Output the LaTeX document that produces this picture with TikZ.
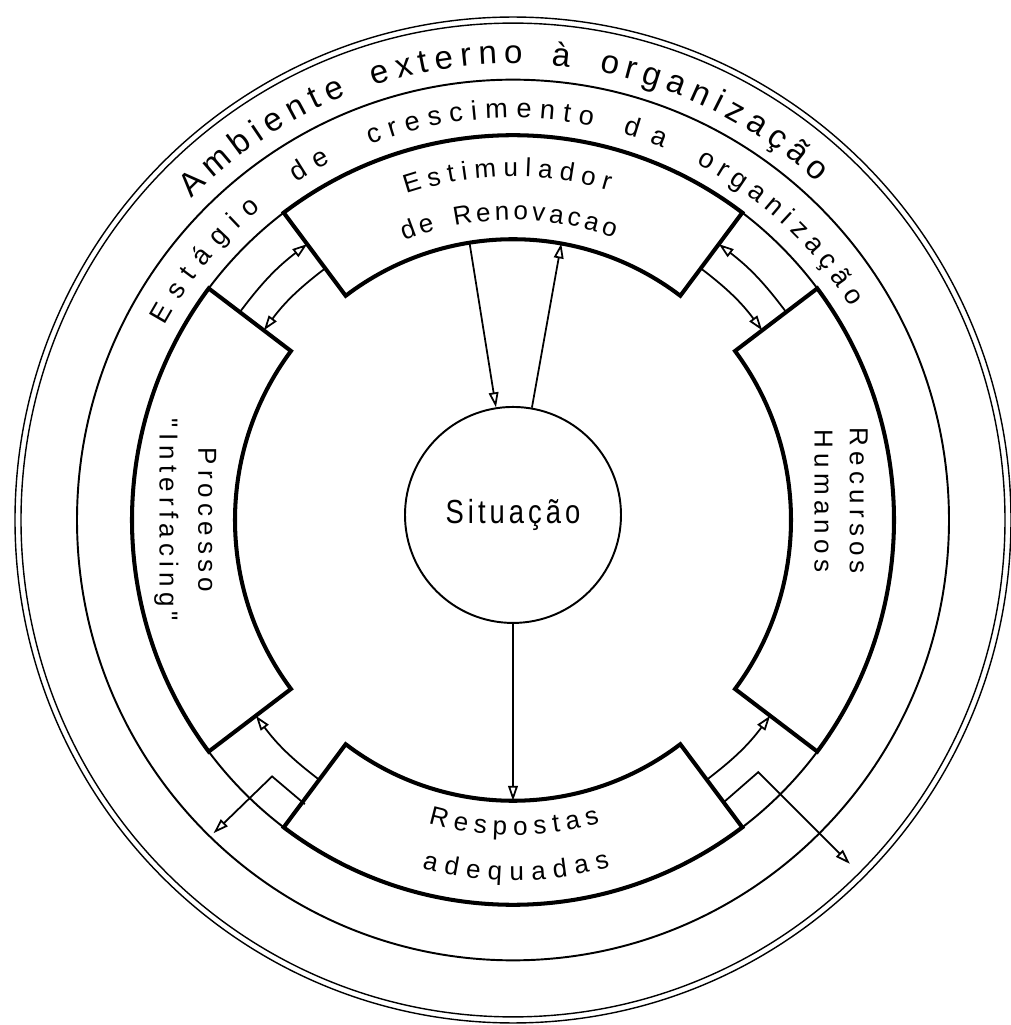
\documentclass[tikz,border=0pt]{standalone}
\usepackage{fontspec}
\setmainfont{Liberation Sans}
\newfontfamily\spacedfont[LetterSpace=20]{Liberation Sans}
\newfontfamily\narrowfont[LetterSpace=12,FakeStretch=0.82]{Liberation Sans}
\newcommand{\ambfont}{\spacedfont\fontsize{18.8}{22}\selectfont}
\newcommand{\stagefont}{\spacedfont\fontsize{15.4}{18}\selectfont}
\newcommand{\boxlabelfont}{\spacedfont\fontsize{14.8}{20}\selectfont}
\newcommand{\sitlabelfont}{\narrowfont\fontsize{19}{22}\selectfont}
\usepackage{tikz}
\usetikzlibrary{arrows.meta,decorations.text}

\begin{document}
\begin{tikzpicture}[x=0.2mm,y=0.202mm,
			ring/.style={line width=1.1pt},
			boxline/.style={line width=2.3pt,line join=miter},
			link/.style={line width=1pt,line join=miter,-{Triangle[open,length=8.5pt,width=5.5pt]}},
			curved/.style={decorate,decoration={text along path,text align={fit to path}}}
		]
		\useasboundingbox[fill=white] (-102.6mm,-101mm) rectangle (99.4mm,104mm);

		% rings
		\draw[line width=0.8pt] (0,0) circle[radius=498];
		\draw[line width=0.8pt] (0,0) circle[radius=492];
		\draw[ring] (0,0) circle[radius=436];
		\draw[ring] (0,0) circle[radius=381];

		\path[curved,decoration={text={|\ambfont|Ambiente externo à organização}}]
			(135.3:452) arc[start angle=135.3,end angle=47.7,radius=452];
		% one arc per word, the gaps are wide
		\path[curved,decoration={text={|\stagefont|Estágio}}]
			(151:398) arc[start angle=151,end angle=129.3,radius=398];
		\path[curved,decoration={text={|\stagefont|de}}]
			(123:398) arc[start angle=123,end angle=117.2,radius=398];
		\path[curved,decoration={text={|\stagefont|crescimento}}]
			(111:398) arc[start angle=111,end angle=78.5,radius=398];
		\path[curved,decoration={text={|\stagefont|da}}]
			(74:398) arc[start angle=74,end angle=67.8,radius=398];
		\path[curved,decoration={text={|\stagefont|organização}}]
			(62.5:398) arc[start angle=62.5,end angle=32,radius=398];

		% the four boxes
		\draw[boxline] (53:278) -- (53:381) arc[start angle=53,end angle=127,radius=381]
			-- (127:278) arc[start angle=127,end angle=53,radius=278] -- cycle;
		\draw[boxline] (143:278) -- (143:381) arc[start angle=143,end angle=217,radius=381]
			-- (217:278) arc[start angle=217,end angle=143,radius=278] -- cycle;
		\draw[boxline] (233:278) -- (233:381) arc[start angle=233,end angle=307,radius=381]
			-- (307:278) arc[start angle=307,end angle=233,radius=278] -- cycle;
		\draw[boxline] (-37:278) -- (-37:381) arc[start angle=-37,end angle=37,radius=381]
			-- (37:278) arc[start angle=37,end angle=-37,radius=278] -- cycle;

		\path[curved,decoration={text={|\boxlabelfont|Estimulador}}]
			(108.3:340) arc[start angle=108.3,end angle=73.6,radius=340];
		\path[curved,decoration={text={|\boxlabelfont|de Renovacao}}]
			(111.5:297) arc[start angle=111.5,end angle=70.1,radius=297];
		\path[curved,decoration={text={|\boxlabelfont|Respostas}}]
			(254.2:312) arc[start angle=254.2,end angle=286.2,radius=312];
		\path[curved,decoration={text={|\boxlabelfont|adequadas}}]
			(255.2:357) arc[start angle=255.2,end angle=285.8,radius=357];
		\node[rotate=-90,align=center,font=\boxlabelfont] (rec) at (328,19) {Recursos\\Humanos};
		\node[rotate=-90,align=center,font=\boxlabelfont,text depth=0pt] (proc) at (-325,0)
			{Processo\\[2pt]"Interfacing"};

		\node[draw,ring,circle,inner sep=0pt,minimum size=43.2mm,font=\sitlabelfont] (sit) at (0,5) {Situação};

		% end points on the boxes
		\coordinate (pe1) at (143:342);
		\coordinate (pe2) at (127:342);
		\coordinate (ep1) at (127:312);
		\coordinate (ep2) at (143:312);
		\coordinate (re1) at (37:342);
		\coordinate (re2) at (53:342);
		\coordinate (er1) at (53:312);
		\coordinate (er2) at (37:312);
		\coordinate (rp1) at (233:322);
		\coordinate (rp2) at (217:322);
		\coordinate (rr1) at (307:322);
		\coordinate (rr2) at (323:322);
		\coordinate (xl1) at (233.5:350);
		\coordinate (xl2) at (226.5:350);
		\coordinate (xl3) at (226:431);
		\coordinate (xr1) at (307:350);
		\coordinate (xr2) at (314.5:350);
		\coordinate (xr3) at (314.7:479);
		\coordinate (est-a) at (99:278);
		\coordinate (est-b) at (80:278);
		\coordinate (resp) at (270:278);

		\draw (pe1) edge[link,bend left=8] (pe2);
		\draw (ep1) edge[link,bend right=8] (ep2);
		\draw (re1) edge[link,bend right=8] (re2);
		\draw (er1) edge[link,bend left=8] (er2);
		\draw (rp1) edge[link,bend left=8] (rp2);
		\draw (rr1) edge[link,bend right=8] (rr2);
		\draw[link] (xl1) -- (xl2) -- (xl3);
		\draw[link] (xr1) -- (xr2) -- (xr3);

		\draw (est-a) edge[link] (sit.99);
		\draw (sit.80) edge[link] (est-b);
		\draw (sit.270) edge[link] (resp);

	\end{tikzpicture}
\end{document}
